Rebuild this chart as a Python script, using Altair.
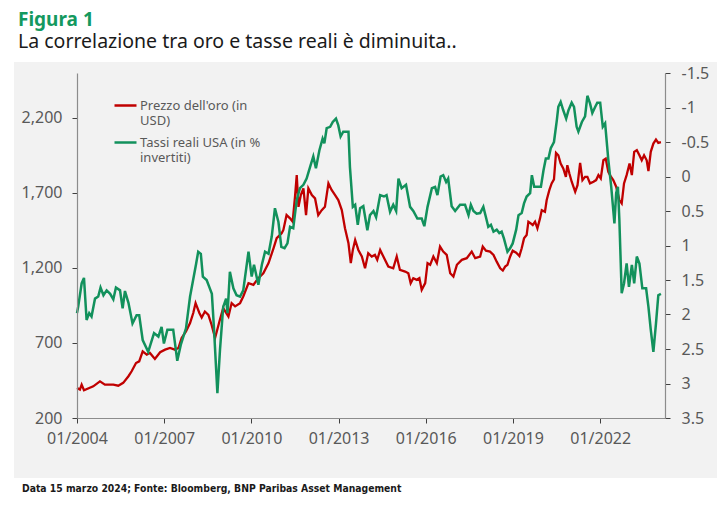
import altair as alt
import pandas as pd

# ---------------- data ----------------
gold_years = [2004.00, 2004.10, 2004.16, 2004.24, 2004.56, 2004.79, 2004.96, 2005.25, 2005.42, 2005.59,
              2005.77, 2005.88, 2006.03, 2006.14, 2006.26, 2006.40, 2006.51, 2006.68, 2006.86, 2007.03,
              2007.20, 2007.37, 2007.49, 2007.60, 2007.75, 2007.89, 2008.00, 2008.08, 2008.21, 2008.29,
              2008.40, 2008.52, 2008.63, 2008.75, 2008.90, 2009.03, 2009.21, 2009.32, 2009.44, 2009.61,
              2009.72, 2009.90, 2010.07, 2010.24, 2010.41, 2010.59, 2010.76, 2010.87, 2011.04, 2011.10,
              2011.21, 2011.33, 2011.42, 2011.50, 2011.56, 2011.62, 2011.70, 2011.79, 2011.88, 2011.96,
              2012.08, 2012.19, 2012.30, 2012.42, 2012.53, 2012.65, 2012.76, 2012.88, 2012.99, 2013.11,
              2013.22, 2013.34, 2013.42, 2013.49, 2013.57, 2013.68, 2013.80, 2013.91, 2014.02, 2014.14,
              2014.25, 2014.33, 2014.43, 2014.54, 2014.71, 2014.88, 2015.00, 2015.11, 2015.29, 2015.40,
              2015.48, 2015.57, 2015.69, 2015.78, 2015.86, 2015.98, 2016.06, 2016.15, 2016.26, 2016.38,
              2016.49, 2016.60, 2016.72, 2016.84, 2016.95, 2017.07, 2017.24, 2017.41, 2017.58, 2017.70,
              2017.87, 2017.96, 2018.07, 2018.21, 2018.33, 2018.44, 2018.56, 2018.65, 2018.73, 2018.81,
              2018.90, 2018.99, 2019.11, 2019.22, 2019.30, 2019.38, 2019.47, 2019.53, 2019.61, 2019.68,
              2019.76, 2019.84, 2019.93, 2019.99, 2020.10, 2020.16, 2020.25, 2020.33, 2020.41, 2020.48,
              2020.56, 2020.64, 2020.73, 2020.82, 2020.87, 2020.94, 2021.02, 2021.14, 2021.22, 2021.31,
              2021.39, 2021.48, 2021.56, 2021.65, 2021.77, 2021.86, 2021.94, 2022.02, 2022.11, 2022.19,
              2022.28, 2022.37, 2022.45, 2022.55, 2022.66, 2022.74, 2022.82, 2022.91, 2023.01, 2023.09,
              2023.17, 2023.26, 2023.35, 2023.43, 2023.51, 2023.60, 2023.66, 2023.74, 2023.83, 2023.92,
              2024.00, 2024.09]
gold_values = [400, 389, 422, 385, 411, 444, 422, 422, 415, 434,
               478, 511, 566, 577, 644, 622, 633, 593, 638, 655,
               666, 655, 666, 733, 777, 832, 899, 965, 899, 869,
               909, 887, 821, 733, 843, 932, 876, 965, 943, 965,
               1009, 1098, 1087, 1131, 1164, 1231, 1330, 1397, 1430, 1452,
               1551, 1529, 1507, 1673, 1817, 1606, 1684, 1729, 1551, 1729,
               1684, 1662, 1551, 1584, 1606, 1762, 1718, 1684, 1651, 1584,
               1463, 1363, 1231, 1319, 1385, 1319, 1275, 1197, 1297, 1275,
               1286, 1253, 1319, 1275, 1208, 1197, 1275, 1186, 1175, 1164,
               1098, 1131, 1120, 1131, 1053, 1098, 1231, 1220, 1275, 1231,
               1341, 1308, 1286, 1164, 1142, 1220, 1253, 1264, 1308, 1264,
               1275, 1341, 1314, 1308, 1286, 1241, 1197, 1182, 1208, 1220,
               1274, 1314, 1301, 1279, 1330, 1396, 1418, 1507, 1496, 1485,
               1507, 1463, 1529, 1584, 1573, 1651, 1717, 1762, 1789, 1965,
               1949, 1894, 1861, 1806, 1883, 1828, 1773, 1706, 1750, 1898,
               1784, 1806, 1806, 1762, 1773, 1784, 1817, 1795, 1916, 1927,
               1839, 1806, 1784, 1740, 1651, 1629, 1762, 1817, 1894, 1817,
               1972, 1983, 1949, 1916, 1949, 1916, 1844, 1972, 2027, 2054,
               2032, 2036]

rate_years = [2004.00, 2004.04, 2004.16, 2004.24, 2004.33, 2004.42, 2004.50, 2004.62, 2004.73, 2004.81,
              2004.91, 2005.02, 2005.14, 2005.25, 2005.34, 2005.48, 2005.57, 2005.65, 2005.77, 2005.91,
              2006.05, 2006.14, 2006.26, 2006.45, 2006.65, 2006.80, 2006.91, 2006.99, 2007.11, 2007.31,
              2007.45, 2007.57, 2007.75, 2007.89, 2008.10, 2008.17, 2008.26, 2008.33, 2008.46, 2008.55,
              2008.64, 2008.71, 2008.83, 2008.92, 2009.03, 2009.13, 2009.18, 2009.26, 2009.38, 2009.49,
              2009.61, 2009.72, 2009.90, 2010.01, 2010.09, 2010.24, 2010.36, 2010.47, 2010.59, 2010.70,
              2010.81, 2010.93, 2011.03, 2011.14, 2011.24, 2011.33, 2011.44, 2011.56, 2011.67, 2011.79,
              2011.90, 2012.02, 2012.13, 2012.22, 2012.34, 2012.45, 2012.51, 2012.59, 2012.71, 2012.80,
              2012.91, 2012.99, 2013.07, 2013.16, 2013.34, 2013.39, 2013.49, 2013.57, 2013.66, 2013.74,
              2013.85, 2013.99, 2014.08, 2014.20, 2014.29, 2014.43, 2014.56, 2014.65, 2014.77, 2014.88,
              2014.98, 2015.06, 2015.17, 2015.32, 2015.46, 2015.57, 2015.71, 2015.86, 2015.95, 2016.06,
              2016.21, 2016.32, 2016.40, 2016.51, 2016.60, 2016.70, 2016.77, 2016.89, 2017.01, 2017.18,
              2017.35, 2017.47, 2017.55, 2017.64, 2017.75, 2017.87, 2017.98, 2018.07, 2018.15, 2018.24,
              2018.33, 2018.44, 2018.53, 2018.61, 2018.69, 2018.81, 2018.90, 2018.99, 2019.11, 2019.19,
              2019.30, 2019.38, 2019.47, 2019.59, 2019.65, 2019.73, 2019.84, 2019.96, 2020.05, 2020.13,
              2020.22, 2020.30, 2020.41, 2020.51, 2020.56, 2020.64, 2020.73, 2020.83, 2020.91, 2021.02,
              2021.10, 2021.19, 2021.25, 2021.37, 2021.48, 2021.56, 2021.65, 2021.73, 2021.83, 2021.90,
              2022.00, 2022.09, 2022.17, 2022.28, 2022.38, 2022.43, 2022.49, 2022.55, 2022.61, 2022.66,
              2022.74, 2022.82, 2022.91, 2022.99, 2023.09, 2023.17, 2023.26, 2023.35, 2023.45, 2023.58,
              2023.66, 2023.74, 2023.83, 2023.92, 2024.00, 2024.09]
rate_values = [1.98, 1.89, 1.55, 1.47, 2.08, 1.98, 2.03, 1.77, 1.74, 1.61,
               1.72, 1.65, 1.70, 1.78, 1.61, 1.65, 1.91, 1.66, 1.83, 2.13,
               2.01, 2.01, 2.37, 2.54, 2.27, 2.32, 2.18, 2.42, 2.22, 2.22,
               2.67, 2.44, 2.20, 1.74, 1.26, 1.09, 1.12, 1.45, 1.50, 1.60,
               1.70, 2.18, 3.14, 2.51, 1.89, 1.77, 1.98, 1.38, 1.62, 1.72,
               1.74, 1.65, 1.09, 1.45, 1.28, 1.57, 1.28, 1.09, 1.12, 0.87,
               0.46, 0.66, 1.02, 1.04, 0.97, 0.73, 0.75, 0.34, 0.17, 0.12,
               0.03, -0.14, -0.29, -0.12, -0.38, -0.55, -0.48, -0.70, -0.72, -0.79,
               -0.84, -0.74, -0.58, -0.65, -0.65, -0.14, 0.44, 0.41, 0.70, 0.46,
               0.43, 0.78, 0.56, 0.50, 0.59, 0.27, 0.29, 0.27, 0.51, 0.41,
               0.50, 0.03, 0.17, 0.12, 0.44, 0.50, 0.61, 0.61, 0.72, 0.44,
               0.17, 0.15, 0.27, 0.00, -0.02, 0.08, 0.03, 0.43, 0.50, 0.41,
               0.41, 0.56, 0.41, 0.50, 0.54, 0.53, 0.44, 0.59, 0.73, 0.70,
               0.80, 0.77, 0.82, 0.80, 0.90, 1.09, 1.04, 0.97, 0.77, 0.56,
               0.53, 0.39, 0.29, 0.24, -0.02, 0.15, 0.15, 0.15, -0.09, -0.26,
               -0.26, -0.41, -0.50, -0.82, -1.01, -1.08, -0.96, -0.84, -0.96, -1.07,
               -1.01, -0.72, -0.65, -0.79, -0.87, -1.17, -1.06, -0.92, -1.01, -1.07,
               -1.07, -0.72, -0.77, -0.24, 0.15, 0.39, 0.68, 0.24, 0.15, 0.63,
               1.69, 1.55, 1.26, 1.60, 1.28, 1.55, 1.16, 1.26, 1.62, 1.62,
               1.89, 2.22, 2.54, 2.13, 1.72, 1.70]

series_names = ["Prezzo dell'oro (in|USD)", "Tassi reali USA (in %|invertiti)"]
x_ticks = [2004, 2007, 2010, 2013, 2016, 2019, 2022]
gold_ticks = [200, 700, 1200, 1700, 2200]
rate_ticks = [-1.5, -1, -0.5, 0, 0.5, 1, 1.5, 2, 2.5, 3, 3.5]

title_text = "Figura 1"
subtitle_text = "La correlazione tra oro e tasse reali è diminuita.."
footer_text = "Data 15 marzo 2024; Fonte: Bloomberg, BNP Paribas Asset Management"

# ---------------- styling ----------------
FONT = "Noto Sans"
RED = "#c00000"
GREEN = "#12915c"
TITLE_GREEN = "#14995f"
LABEL_GRAY = "#595959"
PANEL = "#f2f2f2"

gold_df = pd.DataFrame({"anno": gold_years, "valore": gold_values, "serie": series_names[0]})
rate_df = pd.DataFrame({"anno": rate_years, "valore": rate_values, "serie": series_names[1]})

x_enc = alt.X(
    "anno:Q",
    scale=alt.Scale(domain=[2004, 2024.23], nice=False, zero=False),
    axis=alt.Axis(values=x_ticks, labelExpr="'01/' + datum.value", title=None, grid=False,
                  labelFlush=False, tickSize=5, labelPadding=7, zindex=1),
)

color_enc = alt.Color(
    "serie:N",
    scale=alt.Scale(domain=series_names, range=[RED, GREEN]),
    legend=alt.Legend(title=None, orient="none", legendX=36, legendY=20,
                      labelExpr="split(datum.label, '|')", symbolType="stroke",
                      symbolSize=484, symbolStrokeWidth=2.5, labelFontSize=13,
                      labelColor=LABEL_GRAY, labelFont=FONT, labelLimit=300,
                      rowPadding=2, padding=0, labelOffset=2, labelBaseline="middle"),
)

gold_line = alt.Chart(gold_df).mark_line(strokeWidth=2.3).encode(
    x=x_enc,
    y=alt.Y("valore:Q",
            scale=alt.Scale(domain=[200, 2497], nice=False, zero=False),
            axis=alt.Axis(orient="left", values=gold_ticks, format=",.0f", title=None, grid=False,
                          tickSize=5, labelPadding=10, labelFlush=False, zindex=1)),
    color=color_enc,
)

rate_line = alt.Chart(rate_df).mark_line(strokeWidth=2.5).encode(
    x=x_enc,
    y=alt.Y("valore:Q",
            scale=alt.Scale(domain=[-1.5, 3.5], reverse=True, nice=False, zero=False),
            axis=alt.Axis(orient="right", values=rate_ticks, labelExpr="'' + datum.value",
                          title=None, grid=False, tickSize=5, labelPadding=11, labelFlush=False,
                          zindex=1)),
    color=color_enc,
)

blank = alt.Data(values=[{}])

panel = alt.Chart(blank).mark_rect(color=PANEL).encode(
    x=alt.value(-63), x2=alt.value(640), y=alt.value(-11), y2=alt.value(405)
)

title = alt.Chart(blank).mark_text(
    text=title_text, align="left", baseline="alphabetic", font=FONT,
    fontSize=19, fontWeight="bold", color=TITLE_GREEN
).encode(x=alt.value(-59), y=alt.value(-47))

subtitle = alt.Chart(blank).mark_text(
    text=subtitle_text, align="left", baseline="alphabetic", font=FONT,
    fontSize=19.5, color="#1a1a1a"
).encode(x=alt.value(-59), y=alt.value(-25))

footer = alt.Chart(blank).mark_text(
    text=footer_text, align="left", baseline="alphabetic",
    font="DejaVu Sans Condensed, Liberation Sans Narrow, sans-serif",
    fontSize=10.3, fontWeight="bold", color="#1a1a1a"
).encode(x=alt.value(-55), y=alt.value(419))

chart = alt.layer(panel, gold_line, rate_line, title, subtitle, footer).resolve_scale(
    y="independent"
).properties(
    width=588, height=345,
    autosize=alt.AutoSizeParams(type="none"),
    padding={"left": 69, "top": 65, "right": 52, "bottom": 80},
    background="white",
).configure_view(
    strokeWidth=0
).configure_axis(
    labelFont=FONT, labelFontSize=16, labelColor=LABEL_GRAY,
    domainColor="#8c8c8c", tickColor="#404040", domainWidth=1.2, tickWidth=1,
)

chart.save("out.html", embed_options={"renderer": "svg", "actions": False})
